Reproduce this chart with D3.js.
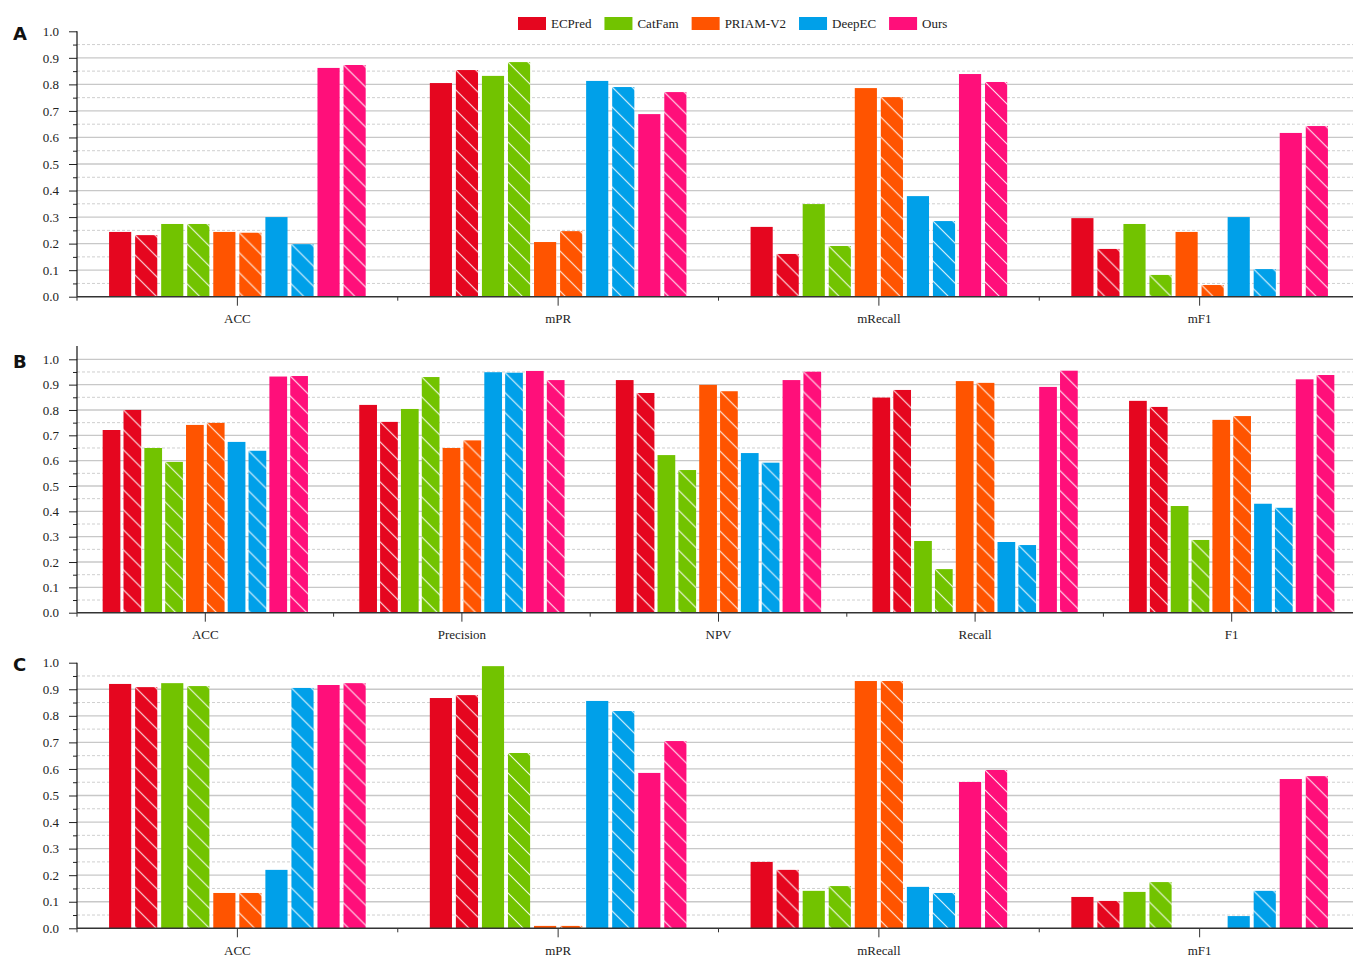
<!DOCTYPE html>
<html>
<head>
<meta charset="utf-8">
<script src="https://cdn.jsdelivr.net/npm/d3@7"></script>
<style>
    body { margin: 0; background: #fff; }
    text { font-family: "Liberation Serif", "Times New Roman", serif; }
</style>
</head>
<body>
<svg id="chart" width="1353" height="957"></svg>
<script>
var methods = ["ECPred", "CatFam", "PRIAM-V2", "DeepEC", "Ours"];
var colors = ["#e5061f", "#72c300", "#ff5400", "#00a0e9", "#ff0f7a"];

// each row: ten bars, per method plain then hatched
var catsA = ["ACC", "mPR", "mRecall", "mF1"];
var valsA = [
    [0.244, 0.232, 0.274, 0.274, 0.244, 0.241, 0.300, 0.198, 0.862, 0.873],
    [0.805, 0.854, 0.832, 0.884, 0.206, 0.247, 0.813, 0.790, 0.688, 0.771],
    [0.263, 0.161, 0.349, 0.191, 0.786, 0.752, 0.379, 0.285, 0.839, 0.809],
    [0.296, 0.180, 0.274, 0.082, 0.244, 0.044, 0.300, 0.104, 0.617, 0.643]
];

var catsB = ["ACC", "Precision", "NPV", "Recall", "F1"];
var valsB = [
    [0.721, 0.800, 0.650, 0.595, 0.741, 0.749, 0.674, 0.639, 0.932, 0.934],
    [0.820, 0.753, 0.804, 0.930, 0.650, 0.680, 0.949, 0.947, 0.954, 0.918],
    [0.918, 0.867, 0.622, 0.563, 0.899, 0.874, 0.630, 0.592, 0.918, 0.951],
    [0.849, 0.879, 0.283, 0.172, 0.914, 0.907, 0.279, 0.267, 0.891, 0.955],
    [0.836, 0.812, 0.421, 0.287, 0.761, 0.776, 0.430, 0.414, 0.921, 0.938]
];

var catsC = ["ACC", "mPR", "mRecall", "mF1"];
var valsC = [
    [0.920, 0.908, 0.923, 0.912, 0.133, 0.133, 0.220, 0.905, 0.916, 0.923],
    [0.867, 0.878, 0.987, 0.660, 0.009, 0.009, 0.856, 0.818, 0.585, 0.705],
    [0.250, 0.220, 0.141, 0.159, 0.931, 0.931, 0.156, 0.133, 0.551, 0.596],
    [0.118, 0.103, 0.137, 0.174, 0.000, 0.000, 0.046, 0.141, 0.562, 0.573]
];

var majorTicks = [0, 0.1, 0.2, 0.3, 0.4, 0.5, 0.6, 0.7, 0.8, 0.9, 1.0];
var minorTicks = [0.05, 0.15, 0.25, 0.35, 0.45, 0.55, 0.65, 0.75, 0.85, 0.95];

var panels = [
    { label: "A", cats: catsA, vals: valsA, top: 31.3, bottom: 296.7, axisTop: 1.0, topGrid: false },
    { label: "B", cats: catsB, vals: valsB, top: 359.3, bottom: 612.7, axisTop: 1.052, topGrid: true },
    { label: "C", cats: catsC, vals: valsC, top: 662.7, bottom: 928.3, axisTop: 1.0, topGrid: false }
];

var svg = d3.select("#chart"),
    defs = svg.append("defs"),
    left = 77, right = 1360, edge = 1353;

panels.forEach(function (p) {
    var y = d3.scaleLinear().domain([0, 1]).range([p.bottom, p.top]);
    var x0 = d3.scaleBand().domain(p.cats).range([left, right]);
    var x1 = d3.scaleBand().domain(d3.range(10))
        .range([x0.bandwidth() * 0.1, x0.bandwidth() * 0.9]).paddingInner(0.15);
    var g = svg.append("g");

    // grid
    g.selectAll(".minor").data(minorTicks).enter().append("line")
        .attr("x1", left).attr("x2", edge)
        .attr("y1", function (d) { return y(d); }).attr("y2", function (d) { return y(d); })
        .attr("stroke", "#cfcfcf").attr("stroke-width", 1).attr("stroke-dasharray", "3,2");
    g.selectAll(".major").data(majorTicks.filter(function (d) { return d > 0 && (d < 1 || p.topGrid); }))
        .enter().append("line")
        .attr("x1", left).attr("x2", edge)
        .attr("y1", function (d) { return y(d); }).attr("y2", function (d) { return y(d); })
        .attr("stroke", "#c8c8c8").attr("stroke-width", 1.3);

    // bars
    var rows = [];
    p.vals.forEach(function (row, ci) {
        row.forEach(function (v, si) {
            rows.push({ cat: p.cats[ci], ci: ci, si: si, v: v });
        });
    });
    rows.forEach(function (d) {
        d.x = x0(d.cat) + x1(d.si);
        d.y = y(d.v);
        d.color = colors[Math.floor(d.si / 2)];
        d.pid = "hatch-" + p.label + "-" + d.ci + "-" + d.si;
    });

    var hatched = rows.filter(function (d) { return d.si % 2 == 1; });
    var pat = defs.selectAll(".p" + p.label).data(hatched).enter().append("pattern")
        .attr("id", function (d) { return d.pid; })
        .attr("patternUnits", "userSpaceOnUse")
        .attr("x", function (d) { return d.x; })
        .attr("y", function (d) { return d.y; })
        .attr("width", 20).attr("height", 20);
    pat.append("rect").attr("width", 20).attr("height", 20)
        .attr("fill", function (d) { return d.color; });
    pat.append("path").attr("d", "M0,0L20,20M-2,18L2,22M18,-2L22,2")
        .attr("stroke", "#fff").attr("stroke-width", 1.1).attr("stroke-opacity", 0.9);

    g.selectAll(".bar").data(rows).enter().append("rect")
        .attr("x", function (d) { return d.x; })
        .attr("y", function (d) { return d.y; })
        .attr("width", x1.bandwidth())
        .attr("height", function (d) { return y(0) - d.y; })
        .attr("fill", function (d) {
            return d.si % 2 == 1 ? "url(#" + d.pid + ")" : d.color;
        });

    // y axis
    var yAxis = g.append("g").attr("transform", "translate(" + left + ",0)")
        .call(d3.axisLeft(y).tickValues(majorTicks).tickSize(8).tickPadding(10)
            .tickFormat(d3.format(".1f")));
    yAxis.attr("font-family", null).attr("font-size", null);
    yAxis.select(".domain").remove();
    yAxis.selectAll("line").attr("stroke", "#222");
    yAxis.selectAll("text").attr("font-size", "13px").attr("fill", "#222");
    var yMinor = g.append("g").attr("transform", "translate(" + left + ",0)")
        .call(d3.axisLeft(y).tickValues(minorTicks).tickSize(4).tickFormat(""));
    yMinor.select(".domain").remove();
    yMinor.selectAll("line").attr("stroke", "#222");
    g.append("line").attr("x1", left).attr("x2", left)
        .attr("y1", y(0)).attr("y2", y(p.axisTop))
        .attr("stroke", "#111").attr("stroke-width", 1.2);

    // x axis
    var xAxis = g.append("g").attr("transform", "translate(0," + y(0) + ")")
        .call(d3.axisBottom(x0).tickSize(9).tickPadding(8).tickSizeOuter(0));
    xAxis.attr("font-family", null).attr("font-size", null);
    xAxis.select(".domain").remove();
    xAxis.selectAll("line").attr("stroke", "#333");
    xAxis.selectAll("text").attr("font-size", "13px").attr("fill", "#222");
    g.selectAll(".edge").data(p.cats).enter().append("line")
        .attr("x1", function (d) { return x0(d); }).attr("x2", function (d) { return x0(d); })
        .attr("y1", y(0)).attr("y2", y(0) + 4)
        .attr("stroke", "#333");
    g.append("line").attr("x1", left).attr("x2", edge)
        .attr("y1", y(0)).attr("y2", y(0))
        .attr("stroke", "#333").attr("stroke-width", 1.6);

    // panel letter
    svg.append("text").attr("x", 13).attr("y", p.top + 8.5)
        .style("font-family", "'DejaVu Sans', sans-serif")
        .attr("font-weight", "bold").attr("font-size", "18px").attr("fill", "#111")
        .text(p.label);
});

// legend
var lg = svg.append("g"), lx = 518;
methods.forEach(function (m, i) {
    lg.append("rect").attr("x", lx).attr("y", 17).attr("width", 28).attr("height", 13)
        .attr("fill", colors[i]);
    var t = lg.append("text").attr("x", lx + 33).attr("y", 28)
        .attr("font-size", "13px").attr("fill", "#222").text(m);
    lx += 33 + t.node().getComputedTextLength() + 13;
});
</script>
</body>
</html>
